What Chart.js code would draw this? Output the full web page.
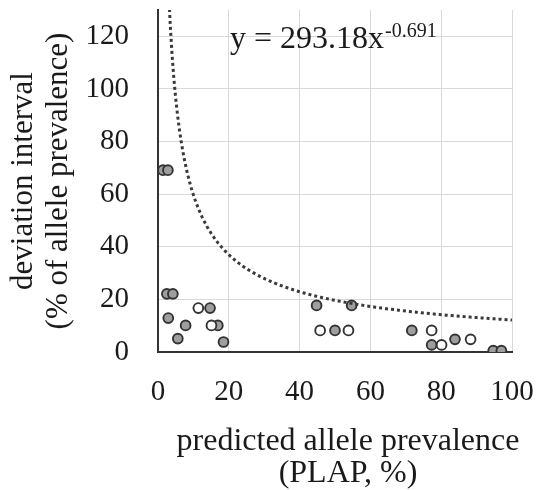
<!DOCTYPE html>
<html>
<head>
<meta charset="utf-8">
<script src="https://cdn.jsdelivr.net/npm/chart.js@4.4.0/dist/chart.umd.min.js"></script>
<style>
  html, body { margin: 0; padding: 0; background: #fff; }
  #wrap { width: 538px; height: 490px; }
</style>
</head>
<body>
<div id="wrap"><canvas id="c" width="538" height="490"></canvas></div>
<script>
// ---- data ----
const grayX = [1.4, 2.8, 2.5, 4.2, 2.9, 7.8, 5.6, 14.7, 16.9, 18.5, 44.8, 54.7, 50.0, 71.7, 77.3, 83.9, 94.7, 97.0];
const grayY = [69.1, 69.1, 22.1, 22.1, 12.9, 10.1, 5.1, 16.7, 10.1, 3.8, 17.7, 17.7, 8.2, 8.2, 2.7, 4.8, 0.5, 0.5];
const whiteX = [11.4, 15.1, 45.8, 53.8, 77.3, 80.1, 88.3];
const whiteY = [16.7, 10.1, 8.2, 8.2, 8.2, 2.7, 4.8];
const xTicks = [0, 20, 40, 60, 80, 100];
const yTicks = [0, 20, 40, 60, 80, 100, 120];
// power trendline stated on the chart: y = A * x^B
const trendA = 293.18;
const trendB = -0.691;
const trendLabel = 'y = 293.18x';
const trendExpLabel = '-0.691';
const xTitle = ['predicted allele prevalence', '(PLAP, %)'];
const yTitle = ['deviation interval', '(% of allele prevalence)'];

const toPts = (xs, ys) => xs.map((x, i) => ({ x: x, y: ys[i] }));
const trendPts = [];
for (let x = 3.0; x <= 100.0001; x += 0.5) {
  trendPts.push({ x: x, y: trendA * Math.pow(x, trendB) });
}

const SERIF = '"Liberation Serif", "Times New Roman", serif';

const textPlugin = {
  id: 'texts',
  afterDraw(chart) {
    const ctx = chart.ctx;
    const a = chart.chartArea;
    ctx.save();
    ctx.fillStyle = '#1a1a1a';
    ctx.textBaseline = 'alphabetic';
    // equation
    ctx.textAlign = 'left';
    ctx.font = '32px ' + SERIF;
    const x0 = a.left + 72, y0 = a.top + 38;
    ctx.fillText(trendLabel, x0, y0);
    const w = ctx.measureText(trendLabel).width;
    ctx.font = '20px ' + SERIF;
    ctx.fillText(trendExpLabel, x0 + w + 1, y0 - 11);
    // x axis title (slightly right of the plot centre, as in the reference)
    ctx.textAlign = 'center';
    ctx.font = '32px ' + SERIF;
    const cx = (a.left + a.right) / 2 + 13;
    ctx.fillText(xTitle[0], cx, a.bottom + 98);
    ctx.fillText(xTitle[1], cx, a.bottom + 130);
    ctx.restore();
  }
};

const zeroPad = (s) => { s.paddingTop = 0; s.paddingBottom = 0; s.paddingLeft = 0; s.paddingRight = 0; };

new Chart(document.getElementById('c'), {
  type: 'scatter',
  data: {
    datasets: [
      {
        type: 'line',
        data: trendPts,
        showLine: true,
        borderColor: '#3a3a3a',
        borderWidth: 3,
        borderDash: [3, 3],
        pointRadius: 0,
        fill: false,
        tension: 0
      },
      {
        data: toPts(whiteX, whiteY),
        backgroundColor: '#ffffff',
        borderColor: '#333333',
        borderWidth: 1.9,
        pointRadius: 4.9
      },
      {
        data: toPts(grayX, grayY),
        backgroundColor: '#9e9e9e',
        borderColor: '#333333',
        borderWidth: 1.9,
        pointRadius: 4.9
      }
    ]
  },
  options: {
    responsive: false,
    animation: false,
    devicePixelRatio: 1,
    layout: { padding: { left: 0, right: 26, top: 10, bottom: 0 } },
    plugins: { legend: { display: false }, tooltip: { enabled: false } },
    scales: {
      x: {
        type: 'linear',
        min: 0, max: 100,
        afterBuildTicks: (s) => { s.ticks = xTicks.map(v => ({ value: v })); },
        afterFit: (s) => { s.height = 138; zeroPad(s); },
        grid: { color: '#d9d9d9', lineWidth: 1, drawTicks: false },
        border: { color: '#333333', width: 2 },
        ticks: { color: '#1a1a1a', padding: 23, font: { family: SERIF, size: 29 }, maxRotation: 0 },
        title: { display: false }
      },
      y: {
        type: 'linear',
        min: 0, max: 130,
        afterBuildTicks: (s) => { s.ticks = yTicks.map(v => ({ value: v })); },
        afterFit: (s) => { s.width = 158; zeroPad(s); },
        grid: { color: '#d9d9d9', lineWidth: 1, drawTicks: false },
        border: { color: '#333333', width: 2 },
        ticks: { color: '#1a1a1a', padding: 29, font: { family: SERIF, size: 29 } },
        title: {
          display: true, text: yTitle, color: '#1a1a1a',
          font: { family: SERIF, size: 31, lineHeight: 1.13 },
          padding: { top: 6, bottom: 0 }
        }
      }
    }
  },
  plugins: [textPlugin]
});
</script>
</body>
</html>
